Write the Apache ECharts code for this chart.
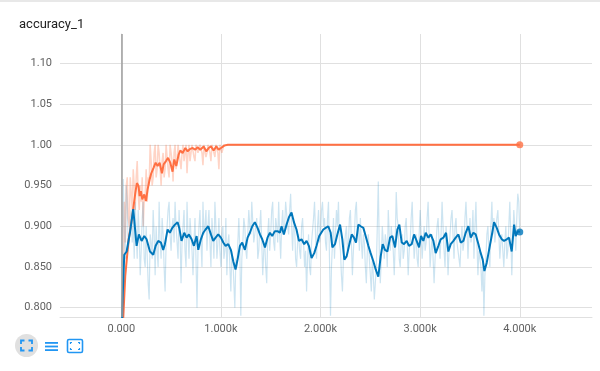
<!DOCTYPE html>
<html>
<head>
<meta charset="utf-8">
<style>html,body{margin:0;padding:0;background:#fff;}#c{width:600px;height:371px;}</style>
<script src="https://cdn.jsdelivr.net/npm/echarts@6/dist/echarts.min.js"></script>
</head>
<body>
<div id="c"></div>
<script>
// ---------- data ----------
const title = 'accuracy_1';
const yTickValues = [0.80, 0.85, 0.90, 0.95, 1.00, 1.05, 1.10];
const yTickLabels = ['0.800', '0.850', '0.900', '0.950', '1.00', '1.05', '1.10'];
const xTickValues = [0, 1000, 2000, 3000, 4000];
const xTickLabels = ['0.000', '1.000k', '2.000k', '3.000k', '4.000k'];

// orange run (train) – smoothed
const trainSmoothSteps = [0,17,40,74,107,124,141,157,174,184,197,211,231,248,264,284,301,325,345,365,385,408,425,449,469,492,515,532,552,576,592,616,643,666,693,716,743,766,793,827,853,877,900,927,954,977,1001,1034,1070,4000];
const trainSmoothVals = [0.70,0.78,0.839,0.884,0.909,0.925,0.941,0.953,0.949,0.937,0.943,0.933,0.939,0.931,0.945,0.957,0.965,0.972,0.978,0.974,0.978,0.965,0.976,0.980,0.984,0.978,0.967,0.982,0.974,0.988,0.993,0.990,0.996,0.992,0.995,0.996,0.994,0.997,0.994,0.998,0.992,0.996,0.998,0.993,0.998,0.994,0.996,0.999,1.000,1.000];
// orange run – raw (logged every 10 steps up to 1060, then last point)
const trainRawStep = 10;
const trainRawVals = [
0.70,0.75,0.82,0.93,0.88,0.95,0.96,0.91,0.90,0.96,
0.94,0.92,0.97,0.95,0.92,0.96,0.98,0.94,0.92,0.95,
0.93,0.96,0.90,0.93,0.94,0.97,0.93,0.96,0.95,1.00,
0.98,0.95,0.96,0.99,1.00,0.96,0.97,1.00,0.99,0.97,
0.95,0.98,0.99,0.96,0.97,1.00,1.00,0.97,0.96,1.00,
0.99,0.98,0.955,0.99,1.00,0.97,0.98,1.00,1.00,0.98,
0.97,0.99,1.00,0.98,0.99,1.00,0.965,0.99,1.00,0.98,
0.99,1.00,1.00,0.985,0.98,1.00,1.00,0.99,0.99,1.00,
1.00,0.99,0.975,1.00,1.00,0.985,0.99,1.00,1.00,0.99,
0.98,1.00,1.00,0.99,0.985,1.00,1.00,0.99,0.97,1.00,
1.00,0.99,0.99,1.00,1.00,1.00,1.00];
const trainLastStep = 4000;
const trainLastVal = 1.00;

// blue run (validation) – smoothed
const valSmoothSteps = [0,10,30,54,87,120,154,177,204,231,254,288,321,345,371,398,421,438,465,488,512,539,565,582,605,632,656,679,706,729,756,773,799,823,846,873,900,923,947,973,1000,1024,1047,1074,1100,1124,1147,1167,1191,1214,1241,1268,1291,1315,1341,1368,1392,1415,1442,1468,1492,1515,1542,1569,1592,1609,1632,1659,1683,1709,1733,1759,1783,1810,1836,1860,1883,1910,1937,1960,1987,2005,2028,2052,2078,2102,2119,2145,2169,2196,2219,2239,2262,2286,2313,2336,2356,2380,2403,2430,2453,2480,2503,2530,2554,2580,2604,2624,2647,2671,2698,2721,2748,2771,2791,2815,2838,2865,2888,2915,2939,2965,2989,3009,3032,3056,3083,3106,3133,3156,3183,3206,3233,3260,3283,3307,3334,3357,3384,3407,3434,3457,3484,3508,3534,3558,3585,3608,3628,3645,3668,3692,3718,3742,3769,3792,3819,3842,3869,3892,3919,3943,3959,3979,4000];
const valSmoothVals = [0.70,0.80,0.865,0.869,0.892,0.921,0.876,0.890,0.882,0.888,0.884,0.869,0.865,0.876,0.882,0.880,0.871,0.878,0.896,0.892,0.898,0.902,0.905,0.898,0.882,0.892,0.886,0.890,0.884,0.876,0.888,0.871,0.884,0.892,0.896,0.900,0.890,0.882,0.886,0.890,0.886,0.880,0.876,0.878,0.871,0.857,0.847,0.859,0.876,0.880,0.871,0.886,0.892,0.900,0.905,0.898,0.890,0.884,0.874,0.886,0.892,0.888,0.894,0.894,0.892,0.900,0.890,0.902,0.911,0.917,0.905,0.896,0.882,0.884,0.878,0.882,0.876,0.861,0.867,0.876,0.888,0.888,0.896,0.898,0.900,0.892,0.874,0.878,0.890,0.902,0.884,0.859,0.863,0.876,0.890,0.886,0.880,0.902,0.900,0.898,0.888,0.876,0.867,0.857,0.847,0.838,0.863,0.878,0.871,0.869,0.886,0.888,0.874,0.896,0.902,0.880,0.878,0.882,0.876,0.878,0.890,0.882,0.874,0.888,0.882,0.892,0.886,0.890,0.882,0.867,0.876,0.884,0.886,0.892,0.869,0.878,0.882,0.886,0.890,0.880,0.882,0.892,0.900,0.886,0.892,0.890,0.878,0.867,0.859,0.845,0.855,0.871,0.888,0.905,0.898,0.890,0.884,0.882,0.884,0.886,0.869,0.902,0.888,0.894,0.893];
// blue run – raw (logged every 10 steps)
const valRawStep = 10;
const valRawVals = [
0.70,0.80,0.958,0.90,0.86,0.95,0.93,0.87,0.88,0.91,0.92,0.88,0.905,0.86,0.93,0.89,0.86,0.92,0.89,0.84,
0.87,0.91,0.93,0.86,0.85,0.90,0.90,0.83,0.81,0.89,0.88,0.86,0.92,0.89,0.84,0.90,0.87,0.85,0.93,0.88,
0.86,0.91,0.89,0.85,0.82,0.88,0.90,0.92,0.93,0.89,0.87,0.90,0.91,0.88,0.93,0.90,0.88,0.86,0.92,0.89,
0.83,0.88,0.90,0.92,0.87,0.85,0.93,0.89,0.86,0.91,0.89,0.87,0.84,0.88,0.91,0.86,0.80,0.87,0.90,0.92,
0.88,0.85,0.93,0.89,0.90,0.92,0.87,0.90,0.92,0.88,0.85,0.91,0.89,0.86,0.93,0.90,0.86,0.88,0.91,0.87,
0.85,0.89,0.90,0.86,0.87,0.91,0.84,0.88,0.89,0.85,0.82,0.87,0.86,0.83,0.80,0.86,0.85,0.88,0.91,0.87,
0.79,0.86,0.88,0.91,0.90,0.87,0.86,0.89,0.92,0.90,0.89,0.93,0.93,0.88,0.88,0.90,0.91,0.86,0.87,0.90,
0.92,0.88,0.84,0.87,0.88,0.85,0.83,0.89,0.91,0.87,0.89,0.92,0.93,0.88,0.87,0.91,0.90,0.88,0.93,0.89,
0.86,0.90,0.92,0.89,0.90,0.93,0.93,0.90,0.89,0.92,0.94,0.90,0.87,0.91,0.90,0.86,0.85,0.88,0.89,0.87,
0.86,0.90,0.91,0.88,0.85,0.87,0.82,0.86,0.89,0.85,0.84,0.88,0.88,0.91,0.93,0.89,0.86,0.90,0.92,0.88,
0.89,0.92,0.93,0.90,0.91,0.88,0.87,0.91,0.93,0.86,0.79,0.85,0.88,0.91,0.86,0.89,0.92,0.90,0.93,0.88,
0.87,0.84,0.82,0.86,0.86,0.89,0.90,0.87,0.88,0.91,0.92,0.88,0.84,0.87,0.89,0.92,0.93,0.89,0.90,0.87,
0.91,0.88,0.86,0.89,0.88,0.85,0.83,0.87,0.89,0.86,0.84,0.82,0.86,0.84,0.81,0.83,0.85,0.90,0.955,0.87,
0.83,0.86,0.90,0.88,0.86,0.89,0.88,0.85,0.92,0.89,0.87,0.90,0.90,0.87,0.84,0.88,0.942,0.91,0.90,0.86,
0.85,0.88,0.89,0.86,0.87,0.90,0.91,0.88,0.84,0.87,0.88,0.91,0.93,0.89,0.86,0.88,0.89,0.86,0.85,0.89,
0.92,0.89,0.86,0.88,0.90,0.87,0.88,0.91,0.93,0.89,0.85,0.87,0.89,0.86,0.83,0.86,0.88,0.90,0.91,0.88,
0.86,0.89,0.93,0.90,0.87,0.85,0.90,0.88,0.84,0.87,0.89,0.91,0.92,0.89,0.86,0.90,0.91,0.88,0.88,0.86,
0.85,0.88,0.90,0.87,0.88,0.91,0.93,0.90,0.86,0.89,0.91,0.88,0.89,0.92,0.86,0.90,0.93,0.88,0.84,0.87,
0.87,0.85,0.82,0.86,0.79,0.84,0.86,0.89,0.90,0.87,0.85,0.90,0.93,0.89,0.91,0.88,0.88,0.91,0.92,0.89,
0.86,0.88,0.89,0.87,0.85,0.88,0.90,0.86,0.87,0.90,0.93,0.89,0.84,0.88,0.92,0.90,0.87,0.91,0.94,0.93,
0.892];

// ---------- build ----------
const zip = (xs, ys) => xs.map((x, i) => [x, ys[i]]);
const trainSmooth = zip(trainSmoothSteps, trainSmoothVals);
const trainRaw = trainRawVals.map((v, i) => [i * trainRawStep, v]).concat([[trainLastStep, trainLastVal]]);
const valSmooth = zip(valSmoothSteps, valSmoothVals);
const valRaw = valRawVals.map((v, i) => [i * valRawStep, v]);

const ORANGE = '#ff7043';
const BLUE = '#0077bb';
const GRID = '#e0e0e0';
const LABEL = '#616161';

const chart = echarts.init(document.getElementById('c'), null, {renderer: 'canvas'});
chart.setOption({
  animation: false,
  backgroundColor: '#fff',
  title: {
    text: title, left: 14, top: 13,
    textStyle: {fontFamily: 'Roboto', fontSize: 13, fontWeight: 'normal', color: '#212121'}
  },
  grid: {left: 60, right: 8, top: 34, bottom: 54, containLabel: false},
  xAxis: {
    type: 'value', min: -615, max: 4725,
    axisLine: {show: true, lineStyle: {color: GRID, width: 1}},
    axisTick: {show: false, customValues: xTickValues},
    splitLine: {show: true, lineStyle: {color: GRID, width: 1}},
    axisLabel: {
      customValues: xTickValues, margin: 7,
      fontFamily: 'Roboto', fontSize: 11, color: LABEL,
      formatter: v => xTickLabels[xTickValues.indexOf(v)] ?? ''
    }
  },
  yAxis: {
    type: 'value', min: 0.7886, max: 1.136,
    axisLine: {show: true, lineStyle: {color: GRID, width: 1}},
    axisTick: {show: true, length: 7, customValues: yTickValues, lineStyle: {color: GRID}},
    splitLine: {show: true, lineStyle: {color: GRID, width: 1}},
    axisLabel: {
      customValues: yTickValues, margin: 8,
      fontFamily: 'Roboto', fontSize: 11, color: LABEL,
      formatter: v => {
        const i = yTickValues.findIndex(t => Math.abs(t - v) < 1e-9);
        return i >= 0 ? yTickLabels[i] : '';
      }
    }
  },
  series: [
    {type: 'line', data: trainRaw, symbol: 'none', clip: true,
     lineStyle: {color: ORANGE, width: 1.5, opacity: 0.3}, z: 1,
     markLine: {silent: true, symbol: 'none', label: {show: false},
       lineStyle: {color: '#9e9e9e', width: 1.5, type: 'solid'},
       data: [{xAxis: 0}]}},
    {type: 'line', data: valRaw, symbol: 'none', clip: true,
     lineStyle: {color: BLUE, width: 1.2, opacity: 0.2}, z: 2},
    {type: 'line', data: trainSmooth, symbol: 'none', clip: true,
     lineStyle: {color: ORANGE, width: 2}, z: 3},
    {type: 'line', data: valSmooth, symbol: 'none', clip: true,
     lineStyle: {color: BLUE, width: 2}, z: 4},
    {type: 'scatter', symbolSize: 7, z: 5,
     itemStyle: {color: ORANGE}, data: [trainSmooth[trainSmooth.length - 1]]},
    {type: 'scatter', symbolSize: 7, z: 5,
     itemStyle: {color: BLUE}, data: [valSmooth[valSmooth.length - 1]]}
  ],
  graphic: [
    {type: 'rect', shape: {x: 0, y: 0, width: 600, height: 2}, style: {fill: '#e8e8e8'}},
    {type: 'circle', shape: {cx: 26.5, cy: 345.5, r: 11.5}, style: {fill: '#e0e0e0'}},
    {type: 'polyline', shape: {points: [[21, 344], [21, 340.5], [24.5, 340.5]]}, style: {stroke: '#2196f3', lineWidth: 1.8, fill: null}},
    {type: 'polyline', shape: {points: [[28.5, 340.5], [32, 340.5], [32, 344]]}, style: {stroke: '#2196f3', lineWidth: 1.8, fill: null}},
    {type: 'polyline', shape: {points: [[21, 347], [21, 350.5], [24.5, 350.5]]}, style: {stroke: '#2196f3', lineWidth: 1.8, fill: null}},
    {type: 'polyline', shape: {points: [[28.5, 350.5], [32, 350.5], [32, 347]]}, style: {stroke: '#2196f3', lineWidth: 1.8, fill: null}},
    {type: 'rect', shape: {x: 45, y: 342, width: 13, height: 1.8}, style: {fill: '#2196f3'}},
    {type: 'rect', shape: {x: 45, y: 345.6, width: 13, height: 1.8}, style: {fill: '#2196f3'}},
    {type: 'rect', shape: {x: 45, y: 349.2, width: 13, height: 1.8}, style: {fill: '#2196f3'}},
    {type: 'rect', shape: {x: 67.5, y: 339.5, width: 15, height: 13, r: 1.5}, style: {stroke: '#2196f3', lineWidth: 1.6, fill: null}},
    {type: 'polyline', shape: {points: [[70.5, 344], [70.5, 342.5], [72, 342.5]]}, style: {stroke: '#2196f3', lineWidth: 1.2, fill: null}},
    {type: 'polyline', shape: {points: [[78, 342.5], [79.5, 342.5], [79.5, 344]]}, style: {stroke: '#2196f3', lineWidth: 1.2, fill: null}},
    {type: 'polyline', shape: {points: [[70.5, 348], [70.5, 349.5], [72, 349.5]]}, style: {stroke: '#2196f3', lineWidth: 1.2, fill: null}},
    {type: 'polyline', shape: {points: [[78, 349.5], [79.5, 349.5], [79.5, 348]]}, style: {stroke: '#2196f3', lineWidth: 1.2, fill: null}}
  ]
});
</script>
</body>
</html>
